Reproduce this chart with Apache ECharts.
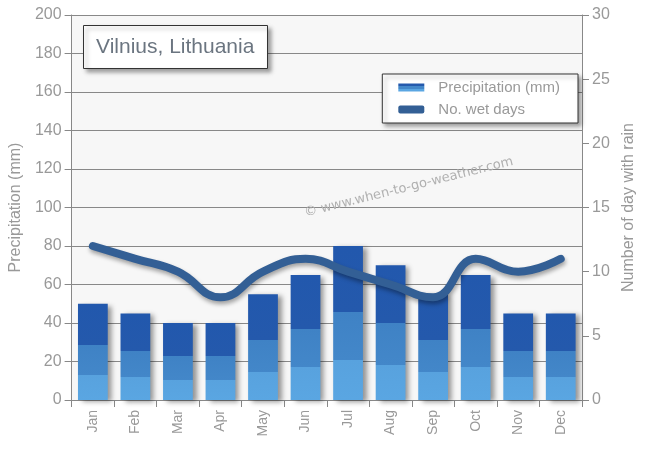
<!DOCTYPE html>
<html>
<head>
<meta charset="utf-8">
<script src="https://cdn.jsdelivr.net/npm/echarts@6/dist/echarts.min.js"></script>
<style>html,body{margin:0;padding:0;background:#fff}#c{width:650px;height:450px}</style>
</head>
<body>
<div id="c"></div>
<script>
var months = ['Jan','Feb','Mar','Apr','May','Jun','Jul','Aug','Sep','Oct','Nov','Dec'];
var precipitation = [50,45,40,40,55,65,80,70,55,65,45,45];
var wetDays = [12,11,10,8,10,11,10,9,8,11,10,11];
var leftTicks = [0,20,40,60,80,100,120,140,160,180,200];
var rightTicks = [0,5,10,15,20,25,30];

var chart = echarts.init(document.getElementById('c'));
var barGrad = {type:'linear',x:0,y:1,x2:0,y2:0,colorStops:[
  {offset:0,color:'#5aa6e2'},{offset:0.26,color:'#58a2de'},
  {offset:0.26,color:'#4387c9'},{offset:0.57,color:'#3f82c5'},
  {offset:0.57,color:'#2459ac'},{offset:1,color:'#2258ad'}]};
var legGrad = {type:'linear',x:0,y:1,x2:0,y2:0,colorStops:[
  {offset:0,color:'#5aa6e2'},{offset:0.33,color:'#5aa6e2'},
  {offset:0.33,color:'#4387c9'},{offset:0.66,color:'#4387c9'},
  {offset:0.66,color:'#2459ac'},{offset:1,color:'#2459ac'}]};
var font = 'Arial, "Liberation Sans", sans-serif';
chart.setOption({
  animation:false,
  textStyle:{fontFamily:font},
  title:{text:'Vilnius, Lithuania',left:83,top:25,padding:[12,13,11,13],
    backgroundColor:'#fff',borderColor:'#333',borderWidth:1,
    shadowColor:'rgba(0,0,0,0.35)',shadowBlur:4,shadowOffsetX:3,shadowOffsetY:3,
    textStyle:{color:'#6b7580',fontSize:21,fontWeight:'normal',fontFamily:font}},
  legend:{right:72,top:74,orient:'vertical',itemGap:7,padding:[6,18,6,16],
    backgroundColor:'#fff',borderColor:'#333',borderWidth:1,
    shadowColor:'rgba(0,0,0,0.35)',shadowBlur:4,shadowOffsetX:3,shadowOffsetY:3,
    itemWidth:26,itemHeight:8,
    textStyle:{color:'#999',fontSize:15,fontFamily:font,padding:[0,0,0,9]},
    data:[{name:'Precipitation (mm)',icon:'rect',itemStyle:{color:legGrad}},
          {name:'No. wet days',icon:'roundRect',itemStyle:{color:'#335f95'}}]},
  grid:{left:69,right:68,top:15,bottom:50,show:true,backgroundColor:'#f7f7f7',borderWidth:0},
  xAxis:{type:'category',data:months,
    axisLine:{lineStyle:{color:'#888'}},
    axisTick:{show:true,length:7,lineStyle:{color:'#888'}},
    axisLabel:{rotate:90,color:'#999',fontSize:14,margin:10,fontFamily:font}},
  yAxis:[
    {type:'value',min:0,max:200,interval:20,name:'Precipitation (mm)',nameLocation:'middle',nameGap:45,
     nameTextStyle:{color:'#999',fontSize:16,fontFamily:font},
     axisLine:{show:true,lineStyle:{color:'#888'}},
     axisTick:{show:true,length:7,lineStyle:{color:'#888'}},
     axisLabel:{color:'#999',fontSize:16,margin:10,fontFamily:font,
       formatter:function(v){return leftTicks.indexOf(v)>=0?String(v):'';}},
     splitLine:{lineStyle:{color:'#888',width:1}}},
    {type:'value',min:0,max:30,interval:5,name:'Number of day with rain',nameLocation:'middle',nameGap:37,
     nameTextStyle:{color:'#999',fontSize:16,fontFamily:font},
     axisLine:{show:true,lineStyle:{color:'#888'}},
     axisTick:{show:true,length:7,lineStyle:{color:'#888'}},
     axisLabel:{color:'#999',fontSize:16,margin:10,fontFamily:font,
       formatter:function(v){return rightTicks.indexOf(v)>=0?String(v):'';}},
     splitLine:{show:false}}
  ],
  graphic:[{type:'text',left:303,top:155,rotation:Math.PI*14/180,z:1,silent:true,
    style:{text:'\u00a9 www.when-to-go-weather.com',fill:'#b0b0b0',fontSize:13,fontFamily:'"DejaVu Sans", sans-serif'}}],
  series:[
    {name:'Precipitation (mm)',type:'bar',data:precipitation,barWidth:'70%',yAxisIndex:0,z:2,
     itemStyle:{color:barGrad,shadowColor:'rgba(0,0,0,0.4)',shadowBlur:5,shadowOffsetX:4,shadowOffsetY:2}},
    {name:'No. wet days',type:'line',data:wetDays,yAxisIndex:1,smooth:0.45,symbol:'none',z:3,
     lineStyle:{color:'#335f95',width:8,cap:'round',shadowColor:'rgba(0,0,0,0.35)',shadowBlur:4,shadowOffsetY:3,shadowOffsetX:1},
     itemStyle:{color:'#335f95'}}
  ]
});
</script>
</body>
</html>
